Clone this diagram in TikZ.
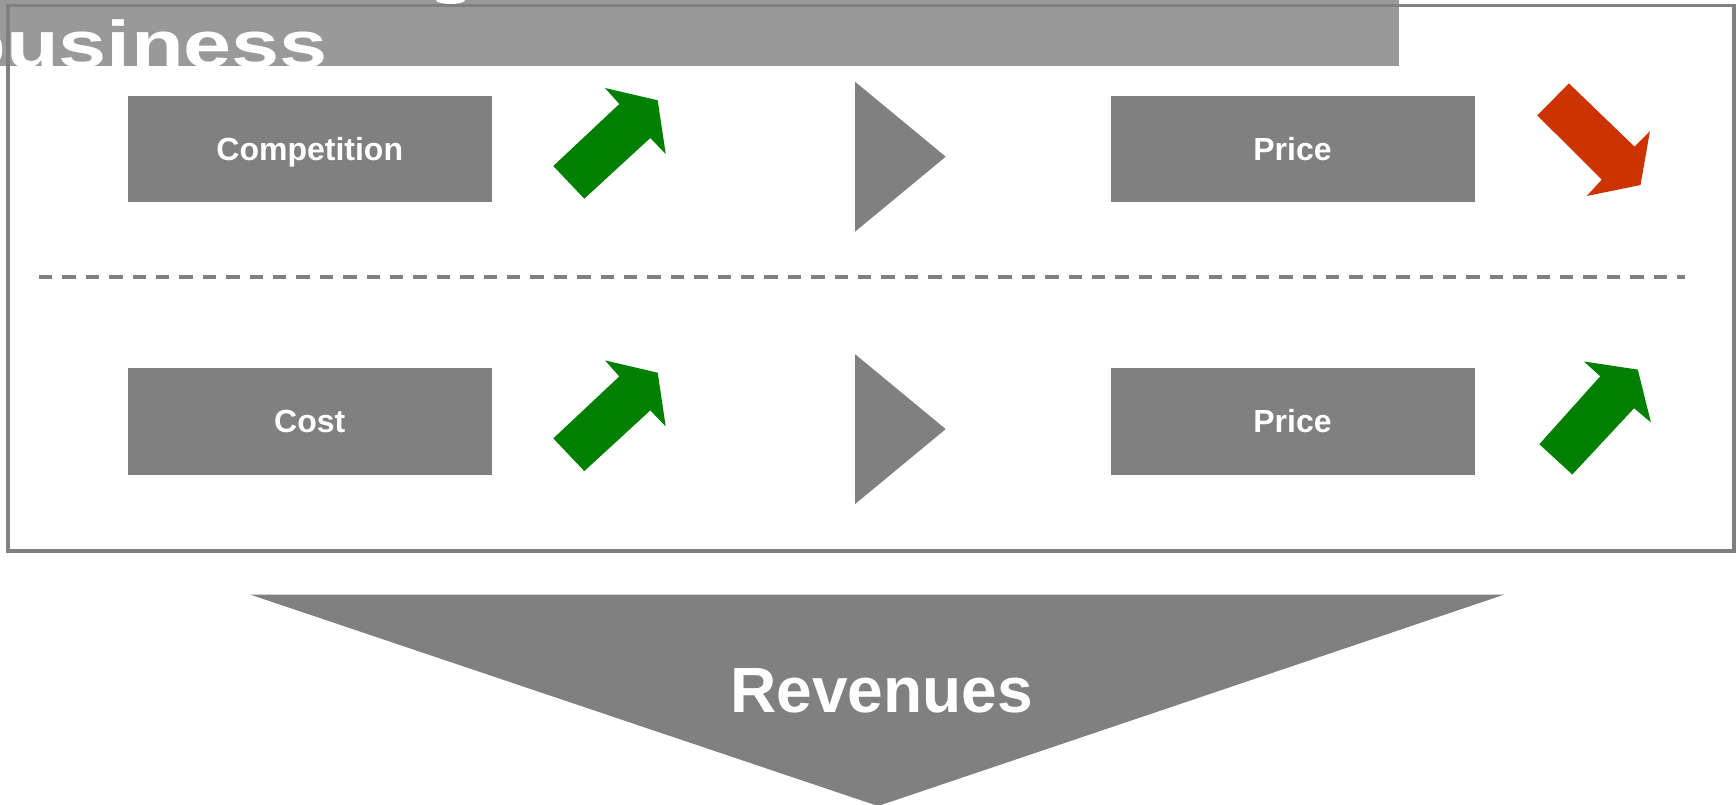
\documentclass[tikz,border=0pt]{standalone}
\usepackage{fontspec}
\setmainfont{Liberation Sans}
\usetikzlibrary{positioning}
\definecolor{boxgray}{HTML}{808080}
\definecolor{bargray}{HTML}{999999}
\definecolor{upgreen}{HTML}{008000}
\definecolor{downred}{HTML}{CC3300}
\tikzstyle{block} = [draw=boxgray, fill=boxgray, rectangle, inner sep=0pt, minimum height=105.5pt, minimum width=363.5pt, text=white, text depth=0pt, font=\fontsize{32}{38}\selectfont\bfseries]
\tikzstyle{pointer} = [fill=boxgray]
\tikzstyle{rise} = [fill=upgreen]
\tikzstyle{fall} = [fill=downred]
\newcommand{\risearrow}[1]{\fill[rise, shift={(0,#1)}] (553.3,166) -- (619.3,104) -- (605,88) -- (657.7,100.3) -- (665.7,154) -- (650.3,138) -- (584.3,198.7) -- cycle;}
\newcommand{\pointright}[1]{\fill[pointer, shift={(0,#1)}] (855,81.7) -- (855,231.7) -- (945.7,156.7) -- cycle;}

\begin{document}
\begin{tikzpicture}[x=1pt, y=-1pt, node distance=272.4pt and 982.75pt, on grid]
    \useasboundingbox (0,0) rectangle (1736,804);
    \fill[bargray] (0,0) rectangle (1399,66);
    \fill[white] (450.5,0) ellipse [x radius=14.5pt, y radius=4pt];
    \node [anchor=base west, inner sep=0pt, xscale=1.31, text=white, font=\fontsize{66}{78}\selectfont\bfseries] (title) at (-47,67) {business};

    \node [block] (comp) at (309.75,148.75) {Competition};
    \node [block, right=of comp] (price) {Price};
    \node [block, below=of comp] (cost) {Cost};
    \node [block, below=of price] (price2) {Price};

    \risearrow{0}
    \risearrow{272.4}
    \pointright{0}
    \pointright{272.4}

    \fill[fall] (1568.9,83.4) -- (1634.5,146.6) -- (1649.9,131.2) -- (1640.5,185) -- (1586.7,196) -- (1601.8,179.6) -- (1537.3,115.4) -- cycle;
    \fill[rise] (1539.3,444.2) -- (1600.2,376.3) -- (1584,361.5) -- (1637.8,369.6) -- (1650.9,422.4) -- (1634.1,408.2) -- (1572.3,474.5) -- cycle;

    \draw[boxgray, line width=3.5pt, dash pattern=on 13.4pt off 10pt] (39,277) -- (1685,277);

    \fill[pointer] (250,594.5) -- (1504.5,594.5) -- (878,806) -- cycle;
    \node [inner sep=0pt, text=white, font=\fontsize{64}{76}\selectfont\bfseries] (rev) at (881.5,691) {Revenues};

    \draw[boxgray, line width=3.5pt] (8,5.5) rectangle (1734,551);
\end{tikzpicture}
\end{document}
